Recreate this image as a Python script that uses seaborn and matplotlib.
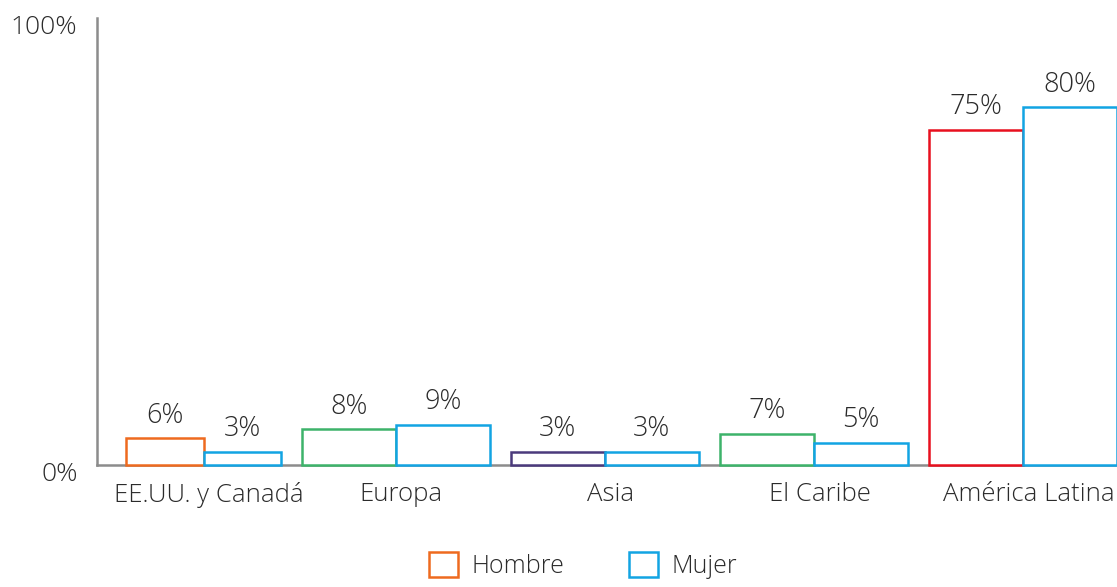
import matplotlib
matplotlib.use("Agg")
import matplotlib.pyplot as plt
import matplotlib.transforms as mtransforms
from matplotlib.patches import Patch
import pandas as pd
import seaborn as sns

regiones = ["EE.UU. y Canadá", "Europa", "Asia", "El Caribe", "América Latina"]
hombre = [6, 8, 3, 7, 75]
mujer = [3, 9, 3, 5, 80]
series = ["Hombre", "Mujer"]
colores_hombre = ["#EE6A1F", "#3DB36A", "#4B3A7C", "#3DB36A", "#E8101E"]
color_mujer = "#12A4E3"
y_ticks = [0, 100]
y_labels = ["0%", "100%"]

sns.set_theme(style="white")
plt.rcParams["font.family"] = ["Open Sans", "DejaVu Sans"]
plt.rcParams["font.weight"] = "light"
texto = "#2b2b2b"
gris = "#8c8c8c"
fs = 18
lw = 1.8

df = pd.DataFrame({
    "region": regiones * 2,
    "sexo": [series[0]] * len(regiones) + [series[1]] * len(regiones),
    "valor": hombre + mujer,
})

fig = plt.figure(figsize=(11.17, 5.87), dpi=100)
ax = fig.add_axes([0.0868, 0.2078, 0.9132, 0.7615])

sns.barplot(data=df, x="region", y="valor", hue="sexo", order=regiones,
            hue_order=series, palette=[colores_hombre[0], color_mujer],
            width=0.9, ax=ax, legend=False, errorbar=None)

# the first group sits a little to the right and is drawn narrower
centros = [0.08, 1, 2, 3, 4]
medio_ancho = [0.37, 0.45, 0.45, 0.45, 0.45]
for i, (bh, bm) in enumerate(zip(ax.containers[0], ax.containers[1])):
    bh.set_x(centros[i] - medio_ancho[i])
    bh.set_width(medio_ancho[i])
    bm.set_x(centros[i])
    bm.set_width(medio_ancho[i])

# outlined bars: white fill, coloured edge (Hombre colour varies by region)
for bar, c in zip(ax.containers[0], colores_hombre):
    bar.set_facecolor("white")
    bar.set_edgecolor(c)
for bar in ax.containers[1]:
    bar.set_facecolor("white")
    bar.set_edgecolor(color_mujer)
for k, cont in enumerate(ax.containers):
    for bar in cont:
        bar.set_linewidth(lw)
        bar.set_clip_on(False)
        bar.set_zorder(4 + k)

for cont in ax.containers:
    ax.bar_label(cont, labels=[f"{v:.0f}%" for v in cont.datavalues],
                 padding=6, fontsize=19.5, color=texto, fontweight="light")

ax.set_xlim(-0.43, 4.45)
ax.set_ylim(0, 100)
ax.set_xticks(centros)
ax.set_xticklabels(regiones)
ax.set_yticks(y_ticks)
ax.set_yticklabels(y_labels)
ax.set_xlabel("")
ax.set_ylabel("")
ax.tick_params(axis="both", length=0, labelsize=fs, colors=texto)
ax.tick_params(axis="x", pad=12, labelsize=18.5)
ax.tick_params(axis="y", pad=14, labelsize=19)
shift_y = mtransforms.ScaledTranslation(0, -5 / 72, fig.dpi_scale_trans)
for lab in ax.get_yticklabels():
    lab.set_transform(lab.get_transform() + shift_y)
shift_x = mtransforms.ScaledTranslation(4 / 72, 0, fig.dpi_scale_trans)
for lab in ax.get_xticklabels():
    lab.set_transform(lab.get_transform() + shift_x)
for lab in ax.get_xticklabels() + ax.get_yticklabels():
    lab.set_fontweight("light")

for side in ["top", "right"]:
    ax.spines[side].set_visible(False)
for side in ["left", "bottom"]:
    ax.spines[side].set_color(gris)
    ax.spines[side].set_linewidth(lw)
    ax.spines[side].set_zorder(2)

handles = [Patch(facecolor="white", edgecolor=colores_hombre[0], linewidth=lw),
           Patch(facecolor="white", edgecolor=color_mujer, linewidth=lw)]
leg = fig.legend(handles, series, loc="center", bbox_to_anchor=(0.522, 0.037),
                 ncol=2, frameon=False, fontsize=fs, handlelength=1.15,
                 handleheight=1.15, handletextpad=0.55, columnspacing=2.6)
for t in leg.get_texts():
    t.set_color(texto)
    t.set_fontweight("light")

fig.savefig("out.png", dpi=100)
